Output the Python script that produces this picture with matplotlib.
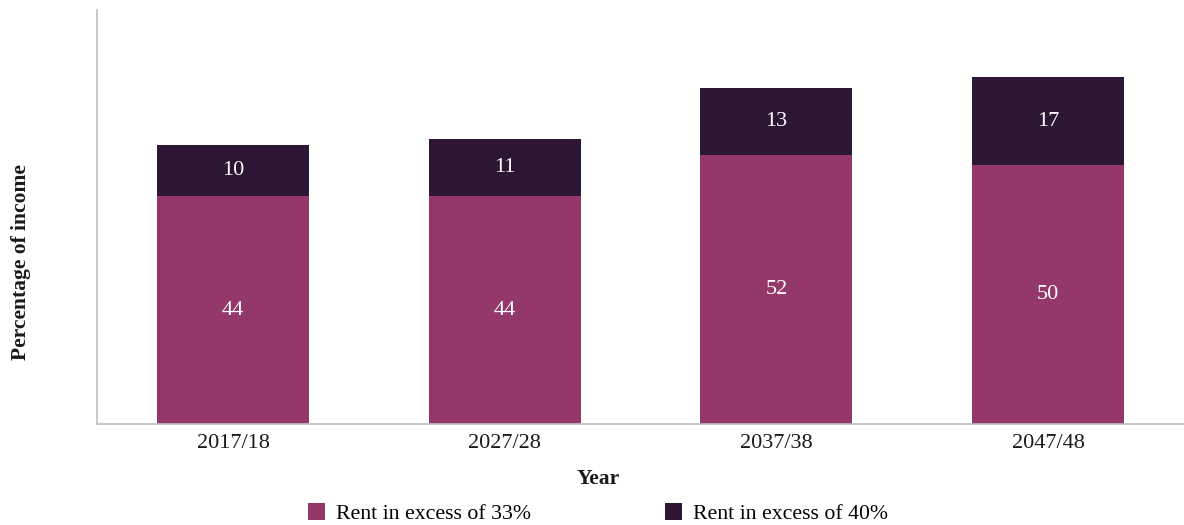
import matplotlib

matplotlib.use("Agg")
import matplotlib.pyplot as plt
import numpy as np

years = ["2017/18", "2027/28", "2037/38", "2047/48"]
excess_33 = [44, 44, 52, 50]
excess_40 = [10, 11, 13, 17]
labels = ["Rent in excess of 33%", "Rent in excess of 40%"]

PINK = "#943769"
DARK = "#2C1634"
plt.rcParams["font.family"] = ["Liberation Serif", "DejaVu Serif"]

fig = plt.figure(figsize=(11.84, 5.25), dpi=100)
ax = fig.add_axes([0.082, 0.192, 0.918, 0.789])

x = np.arange(len(years))
b1 = ax.bar(x, excess_33, width=0.56, color=PINK, label=labels[0])
b2 = ax.bar(x, excess_40, width=0.56, bottom=excess_33, color=DARK, label=labels[1])

for xi, a, b in zip(x, excess_33, excess_40):
    ax.text(xi, a / 2, str(a), ha="center", va="center", color="white", fontsize=16)
    ax.text(xi, a + b / 2, str(b), ha="center", va="center", color="white", fontsize=16)

ax.set_xlim(-0.5, 3.5)
ax.set_ylim(0, 80)
ax.set_xticks(x)
ax.set_xticklabels(years, fontsize=16, color="#1a1a1a")
ax.tick_params(axis="x", length=0, pad=7)
ax.set_yticks([])
for s in ("top", "right"):
    ax.spines[s].set_visible(False)
for s in ("left", "bottom"):
    ax.spines[s].set_color("#BFBFBF")
    ax.spines[s].set_linewidth(1.2)

fig.text(0.505, 0.087, "Year", ha="center", va="center", fontsize=15.5, fontweight="bold", color="#1a1a1a")
fig.text(0.018, 0.5, "Percentage of income", ha="center", va="center", rotation=90,
         fontsize=15.5, fontweight="bold", color="#1a1a1a")

fig.legend(handles=[b1, b2], loc="center", bbox_to_anchor=(0.505, 0.022), ncol=2, frameon=False,
           fontsize=15.7, handlelength=0.8, handleheight=0.8, handletextpad=0.5, columnspacing=6.15)

fig.savefig("out.png", dpi=100)
